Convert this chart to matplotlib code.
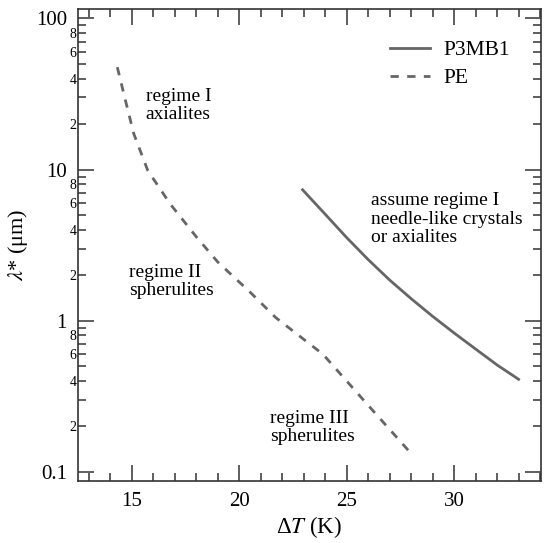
import matplotlib
matplotlib.use('Agg')
import matplotlib.pyplot as plt
from matplotlib.ticker import FixedLocator, FixedFormatter, MultipleLocator

plt.rcParams['font.family'] = ['Liberation Serif', 'DejaVu Serif']
plt.rcParams['mathtext.fontset'] = 'stix'

# P3MB1 (solid)
p3mb1_dT = [22.95, 24, 25, 26, 27, 28, 29, 30, 31, 32, 33]
p3mb1_lam = [7.35, 5.07, 3.55, 2.54, 1.86, 1.40, 1.07, 0.83, 0.65, 0.51, 0.41]

# PE (dashed)
pe_dT = [14.33, 14.7, 15.1, 15.75, 16.8, 18.0, 19.0, 20.5, 21.7, 23.9, 26.0, 28.05]
pe_lam = [47.6, 29.0, 17.2, 9.85, 5.9, 3.6, 2.45, 1.55, 1.05, 0.6, 0.276, 0.13]

notes = [
    (15.65, 26.5, 'regime I\naxialites'),
    (14.86, 1.82, 'regime II\nspherulites'),
    (21.43, 0.196, 'regime III\nspherulites'),
    (26.15, 4.7, 'assume regime I\nneedle-like crystals\nor axialites'),
]

fig = plt.figure(figsize=(5.49, 5.43), dpi=100)
ax = fig.add_axes([0.142, 0.114, 0.843, 0.869])

col = '#666666'
ax.plot(p3mb1_dT, p3mb1_lam, '-', color=col, lw=2, label='P3MB1')
ax.plot(pe_dT, pe_lam, '--', color=col, lw=2, dashes=(3, 3), label='PE')

ax.set_yscale('log')
ax.set_xlim(12.5, 34.03)
ax.set_ylim(0.087, 115)

ax.xaxis.set_major_locator(MultipleLocator(5))
ax.xaxis.set_minor_locator(MultipleLocator(1))

majors = [0.1, 1, 10, 100]
ax.yaxis.set_major_locator(FixedLocator(majors))
ax.yaxis.set_major_formatter(FixedFormatter(['0.1', '1', '10', '100']))
minors = []
minor_labels = []
for dec in [0.1, 1, 10]:
    for m in range(2, 10):
        minors.append(m * dec)
        minor_labels.append(str(m) if m % 2 == 0 else '')
ax.yaxis.set_minor_locator(FixedLocator(minors))
ax.yaxis.set_minor_formatter(FixedFormatter(minor_labels))

ax.tick_params(which='both', direction='in', top=True, right=True, width=1.1, color='#333333')
ax.tick_params(which='major', length=11.5, labelsize=15, pad=8)
ax.tick_params(which='minor', length=6)
ax.tick_params(axis='y', which='minor', labelsize=10, pad=1)
for s in ax.spines.values():
    s.set_linewidth(1.2)
    s.set_color('#333333')

ax.set_xlabel(r'Δ$T$ (K)', fontsize=16.5, labelpad=2)
ax.set_ylabel(r'$\lambda$* (μm)', fontsize=16, labelpad=4)

for x, y, t in notes:
    ax.text(x, y, t, fontsize=14, ha='left', va='center', linespacing=1.1)

ax.legend(loc='upper right', bbox_to_anchor=(0.975, 0.975), frameon=False, fontsize=15.5,
          handlelength=1.9, handletextpad=0.6, labelspacing=0.35)

fig.savefig('out.png', dpi=100)
